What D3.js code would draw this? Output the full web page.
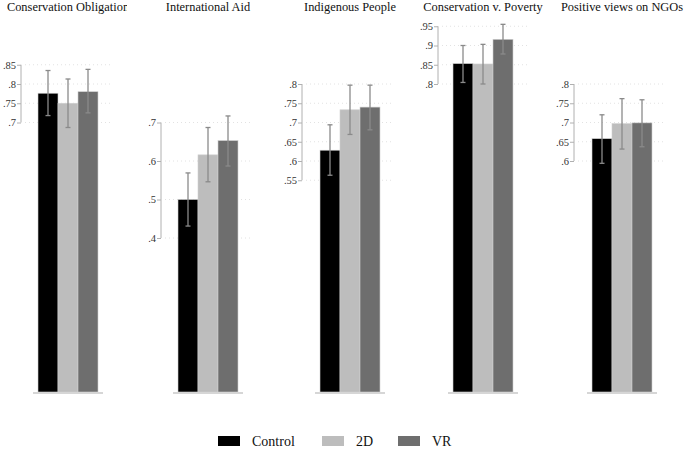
<!DOCTYPE html>
<html><head><meta charset="utf-8">
<script src="https://cdn.jsdelivr.net/npm/d3@7"></script>
<style>body{margin:0;background:#fff}svg{display:block}text{font-family:"Liberation Serif","Times New Roman",serif}</style>
</head><body><svg id="c" width="685" height="449"></svg>
<script>
const panels = ["Conservation Obligation","International Aid","Indigenous People","Conservation v. Poverty","Positive views on NGOs"];
const groups = ["Control","2D","VR"];
const colors = ["#000000","#bdbdbd","#6e6e6e"];
const meanControl = [0.776, 0.500, 0.628, 0.853, 0.658];
const mean2D      = [0.750, 0.616, 0.733, 0.852, 0.697];
const meanVR      = [0.780, 0.653, 0.740, 0.916, 0.699];
const loControl = [0.718, 0.431, 0.563, 0.804, 0.594];
const hiControl = [0.835, 0.569, 0.694, 0.900, 0.720];
const lo2D = [0.687, 0.546, 0.669, 0.800, 0.631];
const hi2D = [0.813, 0.687, 0.797, 0.903, 0.762];
const loVR = [0.725, 0.587, 0.681, 0.878, 0.637];
const hiVR = [0.838, 0.717, 0.797, 0.955, 0.759];
const tickValues = [
  [0.7,0.75,0.8,0.85],
  [0.4,0.5,0.6,0.7],
  [0.55,0.6,0.65,0.7,0.75,0.8],
  [0.8,0.85,0.9,0.95],
  [0.6,0.65,0.7,0.75,0.8]
];

const svg = d3.select("#c");
const y = d3.scaleLinear().domain([0,1]).range([392,7]);
const axisX = [21,161,302,438,574];
const barOff = [17,17,18,15,18];
const fmt = v => d3.format(".2~f")(v).replace(/^0/,"");
const font = '"Liberation Serif","Times New Roman",serif';

panels.forEach((name,i)=>{
  const g = svg.append("g");
  const ax = axisX[i];
  const x = d3.scaleBand().domain(groups).range([ax+barOff[i], ax+barOff[i]+60]).padding(0);
  g.selectAll("line.grid").data(tickValues[i]).join("line")
    .attr("x1", ax+4).attr("x2", ax+92)
    .attr("y1", d=>y(d)).attr("y2", d=>y(d))
    .attr("stroke","#e2e2e2").attr("stroke-width",1).attr("stroke-dasharray","1,3");
  const axis = d3.axisLeft(y).tickValues(tickValues[i]).tickFormat(fmt).tickSize(4).tickSizeOuter(0);
  const ag = g.append("g").attr("transform",`translate(${ax},0)`).call(axis);
  ag.attr("font-family",null);
  ag.select(".domain").attr("stroke","#b0b0b0").attr("d",`M0,${y(d3.max(tickValues[i]))}V${y(d3.min(tickValues[i]))}`);
  ag.selectAll(".tick line").attr("stroke","#b0b0b0");
  ag.selectAll(".tick text").style("font-family",font).style("font-size","10.5px").attr("fill","#333").attr("x",-5);
  const means = [meanControl[i], mean2D[i], meanVR[i]];
  const lo = [loControl[i], lo2D[i], loVR[i]];
  const hi = [hiControl[i], hi2D[i], hiVR[i]];
  g.selectAll("rect.bar").data(groups).join("rect")
    .attr("x", d=>x(d)).attr("width", x.bandwidth())
    .attr("y", (d,j)=>y(means[j])).attr("height",(d,j)=>y(0)-y(means[j]))
    .attr("fill",(d,j)=>colors[j]).attr("stroke","#cfcfcf").attr("stroke-width",0.6);
  g.append("line").attr("x1",x.range()[0]-5).attr("x2",x.range()[1]+5)
    .attr("y1",y(0)+1).attr("y2",y(0)+1).attr("stroke","#d6d6d6").attr("stroke-width",2);
  groups.forEach((d,j)=>{
    const cx = x(d)+x.bandwidth()/2;
    const e = g.append("g").attr("stroke","#8a8a8a").attr("stroke-width",1.3);
    e.append("line").attr("x1",cx).attr("x2",cx).attr("y1",y(hi[j])).attr("y2",y(lo[j]));
    e.append("line").attr("x1",cx-2.5).attr("x2",cx+2.5).attr("y1",y(hi[j])).attr("y2",y(hi[j]));
    e.append("line").attr("x1",cx-2.5).attr("x2",cx+2.5).attr("y1",y(lo[j])).attr("y2",y(lo[j]));
  });
  const cxT = ax+barOff[i]+30;
  const t = svg.append("text").attr("x",cxT).attr("y",11)
    .attr("text-anchor","middle").style("font-family",font).style("font-size","12.4px").attr("fill","#111").text(name);
  if (i===0) {
    svg.append("clipPath").attr("id","clip0").append("rect").attr("x",0).attr("y",0).attr("width",127).attr("height",40);
    t.attr("clip-path","url(#clip0)");
  }
});

const legX = [218,322,398];
const leg = svg.append("g");
groups.forEach((d,j)=>{
  leg.append("rect").attr("x",legX[j]).attr("y",436).attr("width",22).attr("height",10).attr("fill",colors[j]);
  leg.append("text").attr("x",legX[j]+34).attr("y",446).style("font-family",font).style("font-size","14px").attr("fill","#111").text(d);
});
</script></body></html>
